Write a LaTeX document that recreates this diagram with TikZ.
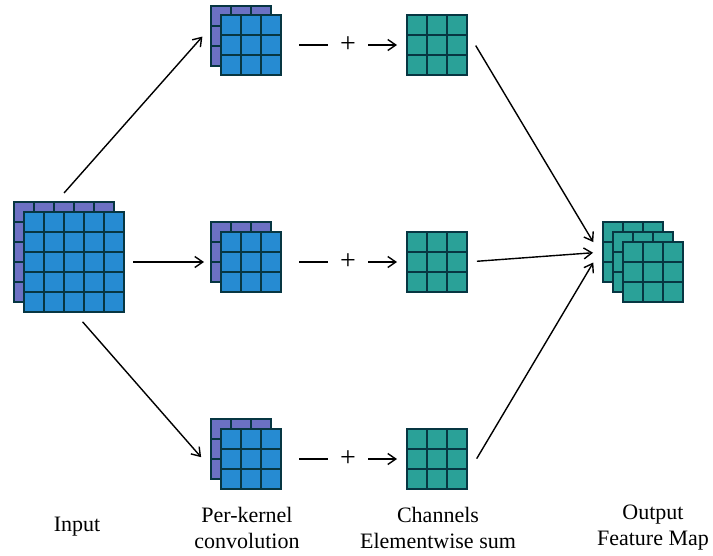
\documentclass[tikz,border=0pt]{standalone}
\usepackage{fontspec}
\setmainfont{Liberation Serif}
\usetikzlibrary{arrows.meta}

\definecolor{fmviolet}{HTML}{6C71C4}
\definecolor{fmblue}{HTML}{268BD2}
\definecolor{fmcyan}{HTML}{2AA198}
\definecolor{fmedge}{HTML}{073642}

\tikzset{
  fmap/.style={draw=fmedge, line width=1.8pt, fill=#1, inner sep=0pt, outer sep=0pt, anchor=north west},
  conn/.style={-{Straight Barb[length=8pt,width=11pt]}, line width=1.4pt},
  lbl/.style={align=center, font=\fontsize{22}{26}\selectfont},
  plus/.style={font=\fontsize{28}{28}\selectfont, inner sep=0pt},
}

% feature map: name, top-left corner, cells per side, fill
\newcommand{\fmgrid}[4]{%
  \node[fmap=#4, minimum size=#3*20pt] (#1) at (#2) {};
  \pgfmathtruncatemacro\fmlast{#3-1}
  \foreach \c in {1,...,\fmlast} {
    \draw[fmedge, line width=1.8pt] ([xshift=\c*20pt]#1.north west) -- ([xshift=\c*20pt]#1.south west);
    \draw[fmedge, line width=1.8pt] ([yshift=-\c*20pt]#1.north west) -- ([yshift=-\c*20pt]#1.north east);
  }
}

\begin{document}
\begin{tikzpicture}[x=1pt,y=-1pt]
  \useasboundingbox (0,0) rectangle (713,555);

  % input
  \fmgrid{inb}{14,202}{5}{fmviolet}
  \fmgrid{inf}{24,212}{5}{fmblue}

  % per-kernel convolutions
  \fmgrid{k1b}{211,6}{3}{fmviolet}
  \fmgrid{k1f}{221,15}{3}{fmblue}
  \fmgrid{k2b}{211,222}{3}{fmviolet}
  \fmgrid{k2f}{221,232}{3}{fmblue}
  \fmgrid{k3b}{211,419}{3}{fmviolet}
  \fmgrid{k3f}{221,429}{3}{fmblue}

  % elementwise sums
  \fmgrid{t1}{407,15}{3}{fmcyan}
  \fmgrid{t2}{407,232}{3}{fmcyan}
  \fmgrid{t3}{407,429}{3}{fmcyan}

  % output
  \fmgrid{o1}{603,222}{3}{fmcyan}
  \fmgrid{o2}{613,232}{3}{fmcyan}
  \fmgrid{o3}{623,242}{3}{fmcyan}

  \node[plus] (p1) at (348,45) {+};
  \node[plus] (p2) at (348,262) {+};
  \node[plus] (p3) at (348,459) {+};

  \draw[conn, shorten <=12pt, shorten >=13pt] (inb.99) -- (k1b.163);
  \draw[conn, shorten <=9pt, shorten >=17pt] (inf.east) -- (k2f.west);
  \draw[conn, shorten <=13pt, shorten >=15pt] (inf.south) -- (k3b.213);

  \foreach \r in {1,2,3} {
    \draw[line width=1.4pt, shorten <=18pt, shorten >=20pt] (k\r f.east) -- (p\r.center);
    \draw[conn, shorten <=20pt, shorten >=10pt] (p\r.center) -- (t\r.west);
  }

  \draw[conn, shorten <=17pt, shorten >=19pt] (t1.25) -- (o1.192);
  \draw[conn, shorten <=10pt, shorten >=10pt] (t2.east) -- (o1.west);
  \draw[conn, shorten <=19pt, shorten >=19pt] (t3.332) -- (o1.169);

  \node[lbl] (lin) at (77,527) {Input};
  \node[lbl] (lconv) at (247,528) {Per-kernel\\convolution};
  \node[lbl] (lsum) at (438,528) {Channels\\Elementwise sum};
  \node[lbl] (lout) at (653,528) {Output\\Feature Map};
\end{tikzpicture}
\end{document}
